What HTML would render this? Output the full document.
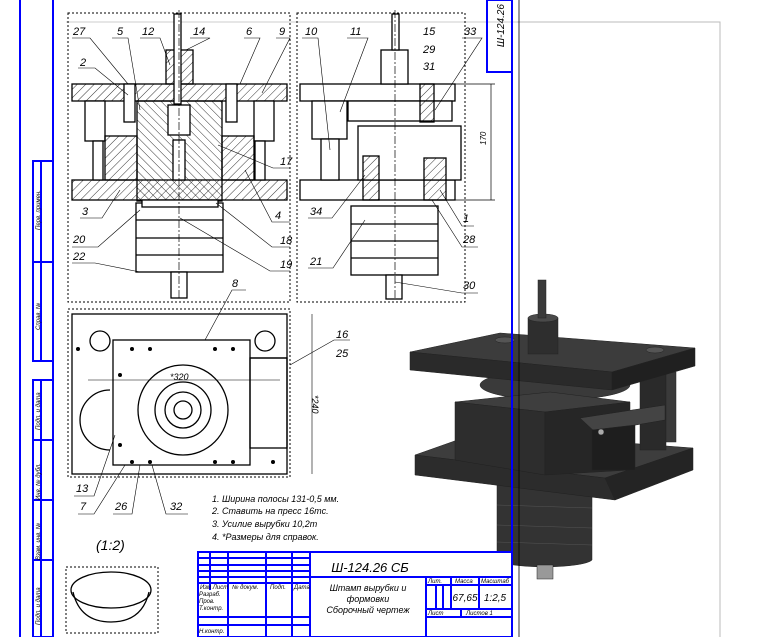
<!DOCTYPE html>
<html><head><meta charset="utf-8"><style>
html,body{margin:0;padding:0;background:#fff;width:777px;height:637px;overflow:hidden}
svg{display:block}
text{font-family:"Liberation Sans",sans-serif;font-style:italic}
</style></head><body>
<svg width="777" height="637" viewBox="0 0 777 637" xmlns="http://www.w3.org/2000/svg">
<defs>
<pattern id="h" width="6" height="6" patternUnits="userSpaceOnUse" patternTransform="rotate(45)"><line x1="0" y1="0" x2="0" y2="6" stroke="#000" stroke-width="0.8"/></pattern>
<pattern id="h2" width="6" height="6" patternUnits="userSpaceOnUse" patternTransform="rotate(-45)"><line x1="0" y1="0" x2="0" y2="6" stroke="#000" stroke-width="0.8"/></pattern>
</defs>
<!-- 3D MODEL -->
<g stroke="#222" stroke-width="0.5">
<!-- lower cylinder -->
<path d="M497,480 L497,560 A48,8 0 0 0 592,560 L592,480 Z" fill="#333"/>
<line x1="497" y1="505" x2="592" y2="508" stroke="#555"/><line x1="497" y1="525" x2="592" y2="528" stroke="#555"/><line x1="497" y1="542" x2="592" y2="545" stroke="#555"/>
<rect x="537" y="565" width="16" height="14" fill="#999"/>
<!-- lower plate -->
<polygon points="415,455 480,432 693,448 605,478" fill="#3d3d3d"/>
<polygon points="415,455 605,478 615,500 415,475" fill="#2c2c2c"/>
<polygon points="605,478 693,448 693,470 615,500" fill="#242424"/>
<!-- posts -->
<rect x="640" y="372" width="26" height="78" fill="#2a2a2a"/>
<rect x="666" y="372" width="10" height="70" fill="#3a3a3a"/>
<!-- middle cylinder -->
<ellipse cx="555" cy="385" rx="75" ry="15" fill="#3a3a3a"/>
<!-- die block -->
<polygon points="455,402 550,392 630,402 545,412" fill="#3e3e3e"/>
<polygon points="455,402 545,412 545,475 455,460" fill="#2d2d2d"/>
<polygon points="545,412 630,402 630,470 545,475" fill="#262626"/>
<polygon points="580,418 665,405 665,420 595,432" fill="#444"/>
<polygon points="592,430 635,425 635,470 592,470" fill="#1e1e1e"/>
<circle cx="601" cy="432" r="3" fill="#aaa"/>
<!-- top plate -->
<polygon points="410,352 500,333 695,348 612,372" fill="#3c3c3c"/>
<polygon points="410,352 612,372 612,390 410,370" fill="#2a2a2a"/>
<polygon points="612,372 695,348 695,366 612,390" fill="#202020"/>
<ellipse cx="505" cy="340" rx="10" ry="3" fill="#555"/><ellipse cx="655" cy="350" rx="9" ry="3" fill="#555"/>
<!-- upper cylinder and pin -->
<rect x="528" y="318" width="30" height="36" fill="#2e2e2e"/>
<ellipse cx="543" cy="318" rx="15" ry="4" fill="#4a4a4a"/>
<rect x="538" y="280" width="8" height="38" fill="#3a3a3a"/>
</g>
<!-- gray sheet behind -->
<polyline points="517,22 720,22 720,637" fill="none" stroke="#bbb"/>
<line x1="519" y1="0" x2="519" y2="637" stroke="#000" stroke-width="0.8"/>
<line x1="66" y1="22" x2="517" y2="22" stroke="#ccc"/>
<!-- blue frame -->
<g stroke="#0000ff" stroke-width="2" fill="none">
<line x1="53" y1="0" x2="53" y2="637"/>
<line x1="512" y1="0" x2="512" y2="637"/>
<line x1="20" y1="0" x2="20" y2="637"/>
<rect x="33" y="161" width="20" height="200"/>
<line x1="41" y1="161" x2="41" y2="361"/>
<line x1="33" y1="262" x2="53" y2="262"/>
<rect x="33" y="380" width="20" height="257"/>
<line x1="41" y1="380" x2="41" y2="637"/>
<line x1="33" y1="440" x2="53" y2="440"/><line x1="33" y1="500" x2="53" y2="500"/><line x1="33" y1="560" x2="53" y2="560"/>
<rect x="487" y="0" width="25" height="72"/>
<rect x="198" y="552" width="314" height="85" fill="#fff"/>
<line x1="310" y1="552" x2="310" y2="637"/>
<line x1="310" y1="577" x2="512" y2="577"/>
<line x1="198" y1="558" x2="310" y2="558"/><line x1="198" y1="565" x2="310" y2="565"/><line x1="198" y1="571" x2="310" y2="571"/><line x1="198" y1="577" x2="310" y2="577"/><line x1="198" y1="583" x2="310" y2="583"/><line x1="198" y1="617" x2="310" y2="617"/><line x1="198" y1="625" x2="310" y2="625"/>
<line x1="210" y1="552" x2="210" y2="590"/><line x1="228" y1="552" x2="228" y2="637"/><line x1="266" y1="552" x2="266" y2="637"/><line x1="292" y1="552" x2="292" y2="637"/>
<line x1="426" y1="577" x2="426" y2="637"/><line x1="426" y1="585" x2="512" y2="585"/><line x1="426" y1="609" x2="512" y2="609"/><line x1="426" y1="617" x2="512" y2="617"/>
<line x1="451" y1="577" x2="451" y2="609"/><line x1="479" y1="577" x2="479" y2="609"/><line x1="436" y1="585" x2="436" y2="609"/><line x1="443" y1="585" x2="443" y2="609"/><line x1="461" y1="609" x2="461" y2="617"/>
</g>
<g font-size="6" fill="#000">
<text x="200" y="589">Изм Лист</text><text x="232" y="589">№ докум.</text><text x="270" y="589">Подп.</text><text x="294" y="589">Дата</text>
<text x="199" y="596">Разраб.</text><text x="199" y="603">Пров.</text><text x="199" y="610">Т.контр.</text><text x="199" y="633">Н.контр.</text>
<text x="428" y="583">Лит.</text><text x="455" y="583">Масса</text><text x="481" y="583">Масштаб</text>
<text x="428" y="615">Лист</text><text x="466" y="615">Листов 1</text>
</g>
<text x="370" y="572" font-size="13" text-anchor="middle">Ш-124.26 СБ</text>
<g font-size="9" text-anchor="middle"><text x="368" y="591">Штамп вырубки и</text><text x="368" y="602">формовки</text><text x="368" y="613">Сборочный чертеж</text></g>
<text x="465" y="601" font-size="10" text-anchor="middle">67,65</text><text x="495" y="601" font-size="10" text-anchor="middle">1:2,5</text>
<text x="504" y="4" font-size="10" transform="rotate(-90 504 4)" text-anchor="end">Ш-124.26</text>
<g font-size="6" fill="#000"><text transform="translate(40,230) rotate(-90)">Перв. примен.</text><text transform="translate(40,330) rotate(-90)">Справ. №</text><text transform="translate(40,430) rotate(-90)">Подп. и дата</text><text transform="translate(40,500) rotate(-90)">Инв. № дубл.</text><text transform="translate(40,560) rotate(-90)">Взам. инв. №</text><text transform="translate(40,625) rotate(-90)">Подп. и дата</text></g>
<!-- notes -->
<g font-size="9"><text x="212" y="502">1. Ширина полосы 131-0,5 мм.</text><text x="212" y="514">2. Ставить на пресс 16тс.</text><text x="212" y="527">3. Усилие вырубки 10,2т</text><text x="212" y="540">4. *Размеры для справок.</text></g>
<text x="96" y="550" font-size="14">(1:2)</text>
<!-- bowl -->
<rect x="66" y="567" width="92" height="66" fill="none" stroke="#000" stroke-dasharray="2,2"/>
<ellipse cx="111" cy="590" rx="40" ry="18" fill="none" stroke="#000" stroke-width="1.3"/>
<path d="M73,592 Q80,622 111,622 Q142,622 149,592" fill="none" stroke="#000" stroke-width="1.3"/>
<!-- dashed view boxes -->
<g fill="none" stroke="#000" stroke-dasharray="2,2"><rect x="68" y="13" width="222" height="289"/><rect x="297" y="13" width="168" height="289"/><rect x="68" y="309" width="222" height="168"/></g>
<!-- LEFT VIEW -->
<g stroke="#000" stroke-width="1.3">
<rect x="72" y="84" width="215" height="17" fill="url(#h)"/>
<rect x="72" y="180" width="215" height="20" fill="url(#h)"/>
<rect x="85" y="101" width="20" height="40" fill="#fff"/>
<rect x="93" y="141" width="10" height="39" fill="#fff"/>
<rect x="254" y="101" width="20" height="40" fill="#fff"/>
<rect x="255" y="141" width="10" height="39" fill="#fff"/>
<rect x="137" y="101" width="85" height="100" fill="url(#h2)"/>
<rect x="105" y="136" width="32" height="44" fill="url(#h)"/>
<rect x="222" y="136" width="32" height="44" fill="url(#h)"/>
<rect x="166" y="50" width="27" height="34" fill="url(#h)"/>
<rect x="174" y="14" width="7" height="90" fill="#fff"/>
<rect x="168" y="105" width="22" height="30" fill="#fff"/>
<rect x="173" y="140" width="12" height="40" fill="#fff"/>
<rect x="124" y="84" width="11" height="38" fill="#fff"/>
<rect x="226" y="84" width="11" height="38" fill="#fff"/>
<rect x="136" y="203" width="87" height="69" fill="#fff"/>
<line x1="136" y1="220" x2="223" y2="220"/><line x1="136" y1="238" x2="223" y2="238"/><line x1="136" y1="255" x2="223" y2="255"/>
<rect x="171" y="272" width="16" height="26" fill="#fff"/>
<rect x="142" y="200" width="76" height="7" fill="#fff"/>
<!-- RIGHT VIEW -->
<rect x="300" y="84" width="155" height="17" fill="#fff"/>
<rect x="300" y="180" width="155" height="20" fill="#fff"/>
<rect x="312" y="101" width="35" height="38" fill="#fff"/>
<rect x="321" y="139" width="18" height="41" fill="#fff"/>
<rect x="348" y="101" width="104" height="20" fill="#fff"/>
<rect x="358" y="126" width="103" height="54" fill="#fff"/>
<rect x="381" y="50" width="27" height="34" fill="#fff"/>
<rect x="392" y="14" width="7" height="36" fill="#fff"/>
<rect x="420" y="84" width="14" height="38" fill="url(#h)"/>
<rect x="363" y="156" width="16" height="44" fill="url(#h)"/>
<rect x="424" y="158" width="22" height="42" fill="url(#h)"/>
<rect x="351" y="206" width="87" height="69" fill="#fff"/>
<line x1="351" y1="224" x2="438" y2="224"/><line x1="351" y1="241" x2="438" y2="241"/><line x1="351" y1="258" x2="438" y2="258"/>
<rect x="386" y="275" width="16" height="24" fill="#fff"/>
</g>
<g stroke="#000" stroke-width="0.7" fill="none">
<line x1="491" y1="84" x2="491" y2="200"/><line x1="455" y1="84" x2="495" y2="84"/><line x1="455" y1="200" x2="495" y2="200"/>
<line x1="179" y1="10" x2="179" y2="300" stroke-dasharray="8,2,2,2"/><line x1="395" y1="10" x2="395" y2="300" stroke-dasharray="8,2,2,2"/>
</g>
<text x="486" y="145" font-size="8" transform="rotate(-90 486 145)">170</text>
<!-- leader labels -->
<g font-size="11" fill="#000">
<text x="73" y="35">27</text><text x="117" y="35">5</text><text x="142" y="35">12</text><text x="193" y="35">14</text><text x="246" y="35">6</text><text x="279" y="35">9</text>
<text x="80" y="66">2</text><text x="305" y="35">10</text><text x="350" y="35">11</text><text x="423" y="35">15</text><text x="423" y="53">29</text><text x="423" y="70">31</text><text x="464" y="35">33</text>
<text x="280" y="165">17</text><text x="275" y="219">4</text><text x="82" y="215">3</text><text x="73" y="243">20</text><text x="73" y="260">22</text><text x="280" y="244">18</text><text x="280" y="268">19</text>
<text x="310" y="215">34</text><text x="463" y="222">1</text><text x="463" y="243">28</text><text x="310" y="265">21</text><text x="463" y="289">30</text>
<text x="232" y="287">8</text><text x="336" y="338">16</text><text x="336" y="357">25</text>
<text x="76" y="492">13</text><text x="80" y="510">7</text><text x="115" y="510">26</text><text x="170" y="510">32</text>
</g>
<g stroke="#000" stroke-width="0.6" fill="none">
<polyline points="72,38 90,38 128,84"/><polyline points="112,38 128,38 140,110"/><polyline points="140,38 160,38 170,65"/><polyline points="190,38 210,38 186,50"/><polyline points="244,38 260,38 240,84"/><polyline points="276,38 290,38 262,93"/>
<polyline points="78,68 95,68 128,95"/><polyline points="302,38 318,38 330,150"/><polyline points="347,38 368,38 340,112"/><polyline points="462,38 482,38 435,110"/>
<polyline points="290,168 273,168 218,145"/><polyline points="290,222 272,222 245,170"/><polyline points="80,218 102,218 120,190"/><polyline points="72,247 98,247 140,210"/><polyline points="72,263 95,263 140,272"/><polyline points="290,247 272,247 216,203"/><polyline points="290,271 270,271 180,218"/>
<polyline points="308,218 332,218 365,175"/><polyline points="474,226 462,226 440,190"/><polyline points="478,247 462,247 432,200"/><polyline points="308,268 333,268 365,220"/><polyline points="478,293 462,293 395,282"/>
<polyline points="246,290 232,290 205,340"/><polyline points="350,340 334,340 290,365"/>
<polyline points="74,496 94,496 115,435"/><polyline points="78,514 94,514 125,465"/><polyline points="113,514 132,514 140,465"/><polyline points="188,514 166,514 152,465"/>
</g>
<!-- PLAN VIEW -->
<g stroke="#000" stroke-width="1.3" fill="none">
<rect x="72" y="314" width="215" height="160"/>
<rect x="113" y="340" width="137" height="125"/>
<line x1="250" y1="358" x2="287" y2="358"/>
<rect x="250" y="358" width="37" height="90"/>
<circle cx="183" cy="410" r="45"/><circle cx="183" cy="410" r="28"/><circle cx="183" cy="410" r="18"/><circle cx="183" cy="410" r="9"/>
<circle cx="100" cy="341" r="10"/><circle cx="265" cy="341" r="10"/>
<path d="M110,390 A30,30 0 0 0 110,450"/>
<line x1="88" y1="380" x2="280" y2="380" stroke-width="0.6"/>
</g>
<g fill="#000"><circle cx="132" cy="349" r="2"/><circle cx="150" cy="349" r="2"/><circle cx="215" cy="349" r="2"/><circle cx="233" cy="349" r="2"/><circle cx="132" cy="462" r="2"/><circle cx="150" cy="462" r="2"/><circle cx="215" cy="462" r="2"/><circle cx="233" cy="462" r="2"/><circle cx="120" cy="375" r="2"/><circle cx="120" cy="445" r="2"/><circle cx="78" cy="349" r="2"/><circle cx="273" cy="462" r="2"/></g>
<text x="170" y="380" font-size="9">*320</text>
<line x1="312" y1="314" x2="312" y2="474" stroke="#000" stroke-width="0.6"/><text x="312" y="395" font-size="9" transform="rotate(90 312 395)">*240</text>
</svg>
</body></html>
